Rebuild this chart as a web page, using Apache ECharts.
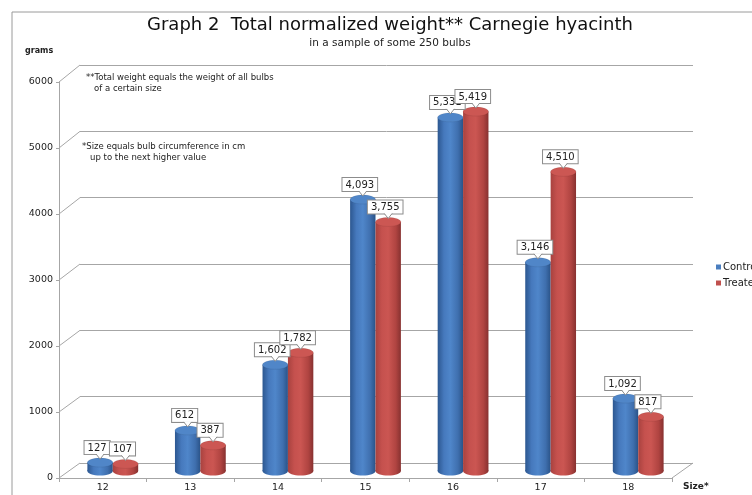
<!DOCTYPE html>
<html><head><meta charset="utf-8">
<script src="https://cdn.jsdelivr.net/npm/echarts@6/dist/echarts.min.js"></script>
<style>html,body{margin:0;padding:0;background:#fff}#c{width:752px;height:495px}</style>
</head><body><div id="c"></div>
<script>
const categories = ['12','13','14','15','16','17','18'];
const control = [127, 612, 1602, 4093, 5331, 3146, 1092];
const treated = [107, 387, 1782, 3755, 5419, 4510, 817];
const yTicks = [0,1000,2000,3000,4000,5000,6000];
const seriesNames = ['Control','Treated'];
const titleText = 'Graph 2  Total normalized weight** Carnegie hyacinth';
const subText = 'in a sample of some 250 bulbs';
const note1 = ['**Total weight equals the weight of all bulbs', '   of a certain size'];
const note2 = ['*Size equals bulb circumference in cm', '   up to the next higher value'];

const FONT = 'DejaVu Sans';
const GRAY = '#a6a6a6';
const TXT = '#222';

const chart = echarts.init(document.getElementById('c'), null, {renderer:'canvas'});

const palettes = [
  {body:[[0,'#2c5790'],[0.25,'#4679bd'],[0.5,'#4f86ca'],[0.8,'#3f6fae'],[1,'#2a5388']], top:'#5086c8', color:'#4a7ebf'},
  {body:[[0,'#a8423f'],[0.25,'#c5514e'],[0.5,'#cb5652'],[0.8,'#b04441'],[1,'#873130']], top:'#cc5753', color:'#c0504d'}
];

function cylinder(sIdx){
  return function(params, api){
    const ci = api.value(0), v = api.value(1);
    const band = api.size([1,0])[0];
    const w = band*0.29;
    const c = api.coord([ci, v]);
    const b = api.coord([ci, 0]);
    const x0 = c[0] + (sIdx===0 ? -w : 0);
    const ry = 4.5;
    const cx = x0 + w/2;
    const pal = palettes[sIdx];
    const grad = new echarts.graphic.LinearGradient(0,0,1,0, pal.body.map(s=>({offset:s[0], color:s[1]})));
    const txt = v.toLocaleString('en-US');
    const boxBottom = c[1] - ry - 4;
    const ax = cx;
    return {type:'group', children:[
      {type:'ellipse', shape:{cx:cx, cy:b[1], rx:w/2, ry:ry}, style:{fill:grad}},
      {type:'rect', shape:{x:x0, y:c[1], width:w, height:Math.max(0,b[1]-c[1])}, style:{fill:grad}},
      {type:'ellipse', shape:{cx:cx, cy:c[1], rx:w/2, ry:ry}, style:{fill:pal.top, stroke:'rgba(0,0,0,0.12)', lineWidth:0.6}},
      {type:'text', z2:100, style:{text:txt, x:cx-3, y:boxBottom, align:'center', verticalAlign:'bottom',
        font:'10px "'+FONT+'"', fill:TXT, backgroundColor:'#fff', borderColor:'#8c8c8c', borderWidth:1, padding:[2,3,1,3]}},
      {type:'polygon', z2:101, shape:{points:[[ax-4,boxBottom-0.5],[ax,boxBottom+5],[ax+4,boxBottom-0.5]]}, style:{fill:'#fff'}},
      {type:'polyline', z2:102, shape:{points:[[ax-4,boxBottom],[ax,boxBottom+5],[ax+4,boxBottom]]}, style:{stroke:'#8c8c8c', lineWidth:1, fill:null}}
    ]};
  };
}

const option = {
  animation:false,
  textStyle:{fontFamily:FONT},
  grid:[
    {left:59, right:80, top:82, bottom:17},
    {left:80, right:59, top:65, bottom:32},
    {left:69, right:70, top:73, bottom:24}
  ],
  xAxis:[
    {gridIndex:0, type:'category', data:categories, axisLine:{lineStyle:{color:GRAY}}, axisTick:{show:true, length:4, lineStyle:{color:GRAY}},
      axisLabel:{color:TXT, fontSize:9.5, margin:5, fontFamily:FONT}},
    {gridIndex:1, type:'category', data:categories, show:false},
    {gridIndex:2, type:'category', data:categories, show:false}
  ],
  yAxis:[
    {gridIndex:0, type:'value', min:0, max:6000, interval:1000, axisLine:{show:true, lineStyle:{color:GRAY}},
      axisTick:{show:true, length:3, lineStyle:{color:GRAY}}, splitLine:{show:false},
      axisLabel:{color:TXT, fontSize:9.5, margin:6, fontFamily:FONT, formatter:v=>String(v)}},
    {gridIndex:1, type:'value', min:0, max:6000, interval:1000, axisLine:{show:false}, axisTick:{show:false}, axisLabel:{show:false},
      splitLine:{show:true, lineStyle:{color:GRAY, width:1}}},
    {gridIndex:2, type:'value', min:0, max:6000, interval:1000, show:false, splitLine:{show:false}}
  ],
  legend:{orient:'vertical', left:716, top:262, padding:0, itemWidth:5, itemHeight:5, itemGap:6, icon:'rect',
    textStyle:{fontSize:10, color:TXT, fontFamily:FONT, padding:[0,0,0,-3]}, data:seriesNames},
  series:[
    {type:'custom', name:seriesNames[0], xAxisIndex:2, yAxisIndex:2, itemStyle:{color:palettes[0].color},
      renderItem:cylinder(0), data:control.map((v,i)=>[i,v]), encode:{x:0,y:1}},
    {type:'custom', name:seriesNames[1], xAxisIndex:2, yAxisIndex:2, itemStyle:{color:palettes[1].color},
      renderItem:cylinder(1), data:treated.map((v,i)=>[i,v]), encode:{x:0,y:1}}
  ]
};
chart.setOption(option);

function decorate(){
  const c0 = chart.convertToPixel({xAxisIndex:0}, categories[0]);
  const c1 = chart.convertToPixel({xAxisIndex:0}, categories[1]);
  const band = c1 - c0;
  const fL = c0 - band/2;
  const fR = chart.convertToPixel({xAxisIndex:0}, categories[categories.length-1]) + band/2;
  const b0 = chart.convertToPixel({xAxisIndex:1}, categories[0]);
  const b1 = chart.convertToPixel({xAxisIndex:1}, categories[1]);
  const bb = b1 - b0;
  const bL = b0 - bb/2;
  const bR = chart.convertToPixel({xAxisIndex:1}, categories[categories.length-1]) + bb/2;
  const g = [];
  yTicks.forEach(v=>{
    const fy = chart.convertToPixel({yAxisIndex:0}, v);
    const by = chart.convertToPixel({yAxisIndex:1}, v);
    g.push({type:'line', shape:{x1:fL, y1:fy, x2:bL, y2:by}, style:{stroke:GRAY, lineWidth:1}, silent:true});
  });
  const fy0 = chart.convertToPixel({yAxisIndex:0}, 0);
  const by0 = chart.convertToPixel({yAxisIndex:1}, 0);
  g.push({type:'line', shape:{x1:fR, y1:fy0, x2:bR, y2:by0}, style:{stroke:GRAY, lineWidth:1}});
  // outer frame
  g.push({type:'line', shape:{x1:12, y1:12, x2:752, y2:12}, style:{stroke:'#9a9a9a', lineWidth:1}});
  g.push({type:'line', shape:{x1:12, y1:12, x2:12, y2:495}, style:{stroke:'#9a9a9a', lineWidth:1}});
  // texts
  g.push({type:'text', style:{text:titleText, x:390, y:25, align:'center', verticalAlign:'middle', font:'18px "'+FONT+'"', fill:'#111'}});
  g.push({type:'text', style:{text:subText, x:390, y:43, align:'center', verticalAlign:'middle', font:'10.5px "'+FONT+'"', fill:TXT}});
  g.push({type:'text', style:{text:'grams', x:25, y:51, align:'left', verticalAlign:'middle', font:'bold 8px "'+FONT+'"', fill:TXT}});
  g.push({type:'text', style:{text:'Size*', x:683, y:487, align:'left', verticalAlign:'middle', font:'bold 9px "'+FONT+'"', fill:TXT}});
  g.push({type:'text', style:{text:note1.join('\n'), x:86, y:72, align:'left', verticalAlign:'top', lineHeight:11, font:'8.5px "'+FONT+'"', fill:TXT}});
  g.push({type:'text', style:{text:note2.join('\n'), x:82, y:141, align:'left', verticalAlign:'top', lineHeight:11, font:'8.5px "'+FONT+'"', fill:TXT}});
  chart.setOption({graphic:g});
}
decorate();
</script></body></html>
